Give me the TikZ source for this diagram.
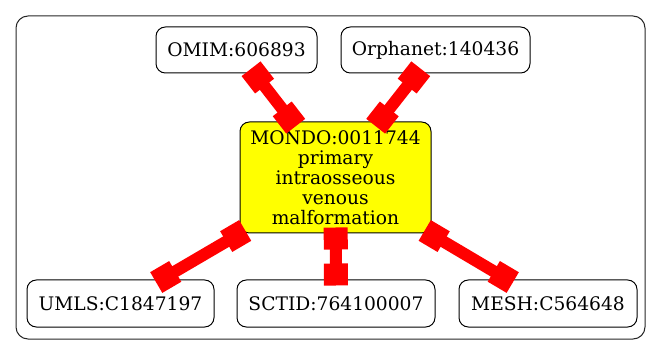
\documentclass[tikz,border=0pt]{standalone}
\usepackage{fontspec}
\setmainfont{DejaVu Serif}
\usetikzlibrary{calc}
\definecolor{linkred}{HTML}{FF0000}
\definecolor{termyellow}{HTML}{FFFF00}
\tikzset{
  term/.style={draw=black, line width=0.75pt, rounded corners=7pt, inner sep=0pt,
    align=center, font=\fontsize{14}{15}\selectfont, minimum height=34.5pt},
  edgeline/.style={draw=linkred, line width=9pt},
  edgebox/.style={draw=linkred, line width=18pt},
  frame/.style={draw=black!85, line width=0.75pt, rounded corners=9pt},
}
% thick red link with a box at each end
\newcommand\linkterms[2]{%
  \path (#1) -- (#2) coordinate[pos=0] (#1-#2-s) coordinate[pos=1] (#1-#2-e);
  \draw[edgeline] (#1-#2-s) -- (#1-#2-e);
  \draw[edgebox] ($(#1-#2-s)!-4.5pt!(#1-#2-e)$) -- ($(#1-#2-s)!12pt!(#1-#2-e)$);
  \draw[edgebox] ($(#1-#2-e)!-4.5pt!(#1-#2-s)$) -- ($(#1-#2-e)!12pt!(#1-#2-s)$);
}
\begin{document}
\begin{tikzpicture}[x=0.75pt, y=-0.75pt]
  \useasboundingbox (0,0) rectangle (661,356);
  \draw[frame] (16,16) rectangle (645,339);

  \node[term, minimum width=120.75pt] (omim) at (236.5,50) {OMIM:606893};
  \node[term, minimum width=141.75pt] (orpha) at (435.5,50) {Orphanet:140436};
  \node[term, fill=termyellow, minimum width=143.25pt, minimum height=83.25pt] (mondo) at (335.5,177.5)
    {MONDO:0011744\\primary\\intraosseous\\venous\\malformation};
  \node[term, minimum width=140.25pt, minimum height=35.25pt] (umls) at (120.5,303.5) {UMLS:C1847197};
  \node[term, minimum width=148.5pt, minimum height=35.25pt] (sctid) at (336,303.5) {SCTID:764100007};
  \node[term, minimum width=133.5pt, minimum height=35.25pt] (mesh) at (548,303.5) {MESH:C564648};

  \linkterms{omim}{mondo}
  \linkterms{orpha}{mondo}
  \linkterms{mondo}{umls}
  \linkterms{mondo}{sctid}
  \linkterms{mondo}{mesh}
\end{tikzpicture}
\end{document}
